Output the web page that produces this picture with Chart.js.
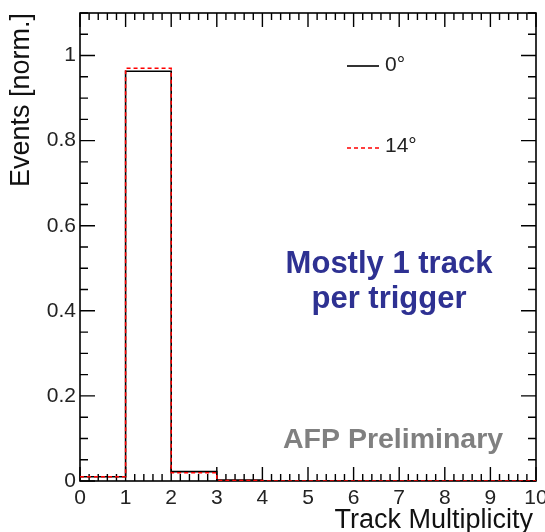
<!DOCTYPE html>
<html>
<head>
<meta charset="utf-8">
<script src="https://cdn.jsdelivr.net/npm/chart.js@4"></script>
<style>
  html, body { margin: 0; padding: 0; background: #fff; }
  #wrap { width: 545px; height: 532px; position: relative; }
</style>
</head>
<body>
<div id="wrap"><canvas id="c" width="545" height="532"></canvas></div>
<script>
// ---- data ----
const binEdges = [0, 1, 2, 3, 4, 5, 6, 7, 8, 9, 10];
const deg0Values = [0.010, 0.963, 0.022, 0.0025, 0, 0, 0, 0, 0, 0];
const deg14Values = [0.010, 0.970, 0.0195, 0.001, 0, 0, 0, 0, 0, 0];
const seriesLabels = ['0°', '14°'];
const xTickValues = [0, 1, 2, 3, 4, 5, 6, 7, 8, 9, 10];
const yTickValues = [0, 0.2, 0.4, 0.6, 0.8, 1.0];
const xTitle = 'Track Multiplicity';
const yTitle = 'Events [norm.]';
const noteLines = ['Mostly 1 track', 'per trigger'];
const prelimText = 'AFP Preliminary';

// build step points: each bin value starts at its lower edge, last value repeated at the final edge
function stepPoints(values) {
  const pts = values.map((v, i) => ({ x: binEdges[i], y: v }));
  pts.push({ x: binEdges[values.length], y: values[values.length - 1] });
  return pts;
}

const FONT = "'Liberation Sans', Arial, Helvetica, sans-serif";

const framePlugin = {
  id: 'frame',
  beforeDatasetsDraw(chart) {
    const { ctx, chartArea: a, scales } = chart;
    const xs = scales.x, ys = scales.y;
    ctx.save();
    ctx.strokeStyle = '#000';
    ctx.lineWidth = 1.6;
    ctx.strokeRect(a.left, a.top, a.right - a.left, a.bottom - a.top);
    ctx.lineWidth = 1.4;
    ctx.beginPath();
    // x ticks (bottom up, top down)
    for (let k = 0; k <= 50; k++) {
      const v = k / 5;
      const px = xs.getPixelForValue(v);
      const len = (k % 5 === 0) ? 14 : 7;
      ctx.moveTo(px, a.bottom); ctx.lineTo(px, a.bottom - len);
      ctx.moveTo(px, a.top); ctx.lineTo(px, a.top + len);
    }
    // y ticks (left rightwards, right leftwards)
    for (let k = 0; k <= 22; k++) {
      const v = k * 0.05;
      const py = ys.getPixelForValue(v);
      const len = (k % 4 === 0) ? 15 : 8;
      ctx.moveTo(a.left, py); ctx.lineTo(a.left + len, py);
      ctx.moveTo(a.right, py); ctx.lineTo(a.right - len, py);
    }
    ctx.stroke();
    ctx.restore();
  },
  afterDraw(chart) {
    const { ctx, chartArea: a } = chart;
    ctx.save();
    // axis titles
    ctx.fillStyle = '#111';
    ctx.font = `27px ${FONT}`;
    ctx.textAlign = 'right';
    ctx.textBaseline = 'alphabetic';
    ctx.fillText(xTitle, 533, 528);
    ctx.save();
    ctx.translate(29, a.top);
    ctx.rotate(-Math.PI / 2);
    ctx.textAlign = 'right';
    ctx.fillText(yTitle, 0, 0);
    ctx.restore();

    // legend
    const ds = chart.data.datasets;
    const legY = [66, 148];
    const textY = [71, 152];
    ds.forEach((d, i) => {
      ctx.save();
      ctx.strokeStyle = d.borderColor;
      ctx.lineWidth = 1.6;
      ctx.setLineDash(d.borderDash || []);
      ctx.beginPath();
      ctx.moveTo(347, legY[i]); ctx.lineTo(379, legY[i]);
      ctx.stroke();
      ctx.restore();
      ctx.fillStyle = '#222';
      ctx.font = `21px ${FONT}`;
      ctx.textAlign = 'left';
      ctx.fillText(d.label, 385, textY[i]);
    });

    // annotation
    ctx.fillStyle = '#2e3192';
    ctx.font = `bold 31px ${FONT}`;
    ctx.textAlign = 'center';
    ctx.fillText(noteLines[0], 389, 273);
    ctx.fillText(noteLines[1], 389, 308);

    ctx.fillStyle = '#808080';
    ctx.font = `bold 28.5px ${FONT}`;
    ctx.textAlign = 'left';
    ctx.fillText(prelimText, 283, 448);
    ctx.restore();
  }
};

new Chart(document.getElementById('c'), {
  type: 'line',
  data: {
    datasets: [
      {
        label: seriesLabels[0],
        data: stepPoints(deg0Values),
        borderColor: '#000000',
        borderWidth: 1.6,
        stepped: 'before',
        pointRadius: 0,
        fill: false,
        order: 1
      },
      {
        label: seriesLabels[1],
        data: stepPoints(deg14Values),
        borderColor: '#ff0000',
        borderWidth: 1.5,
        borderDash: [4, 3],
        stepped: 'before',
        pointRadius: 0,
        fill: false,
        order: 0
      }
    ]
  },
  options: {
    responsive: false,
    animation: false,
    events: [],
    layout: { padding: { left: 0, right: 9, top: 13, bottom: 0 } },
    plugins: { legend: { display: false }, tooltip: { enabled: false } },
    scales: {
      x: {
        type: 'linear',
        min: 0, max: 10,
        grid: { display: false, drawTicks: false },
        border: { display: false },
        afterBuildTicks: s => { s.ticks = xTickValues.map(v => ({ value: v })); },
        afterFit: s => { s.height = 51; s.paddingLeft = 0; s.paddingRight = 0; },
        ticks: {
          autoSkip: false, maxRotation: 0, padding: 5,
          color: '#222',
          font: { family: FONT, size: 21 },
          callback: v => String(v)
        }
      },
      y: {
        type: 'linear',
        min: 0, max: 1.1,
        grid: { display: false, drawTicks: false },
        border: { display: false },
        afterBuildTicks: s => { s.ticks = yTickValues.map(v => ({ value: v })); },
        afterFit: s => { s.width = 80; s.paddingTop = 0; s.paddingBottom = 0; },
        ticks: {
          autoSkip: false, padding: 4,
          color: '#222',
          font: { family: FONT, size: 21 },
          callback: v => String(+(+v).toFixed(1))
        }
      }
    }
  },
  plugins: [framePlugin]
});
</script>
</body>
</html>
